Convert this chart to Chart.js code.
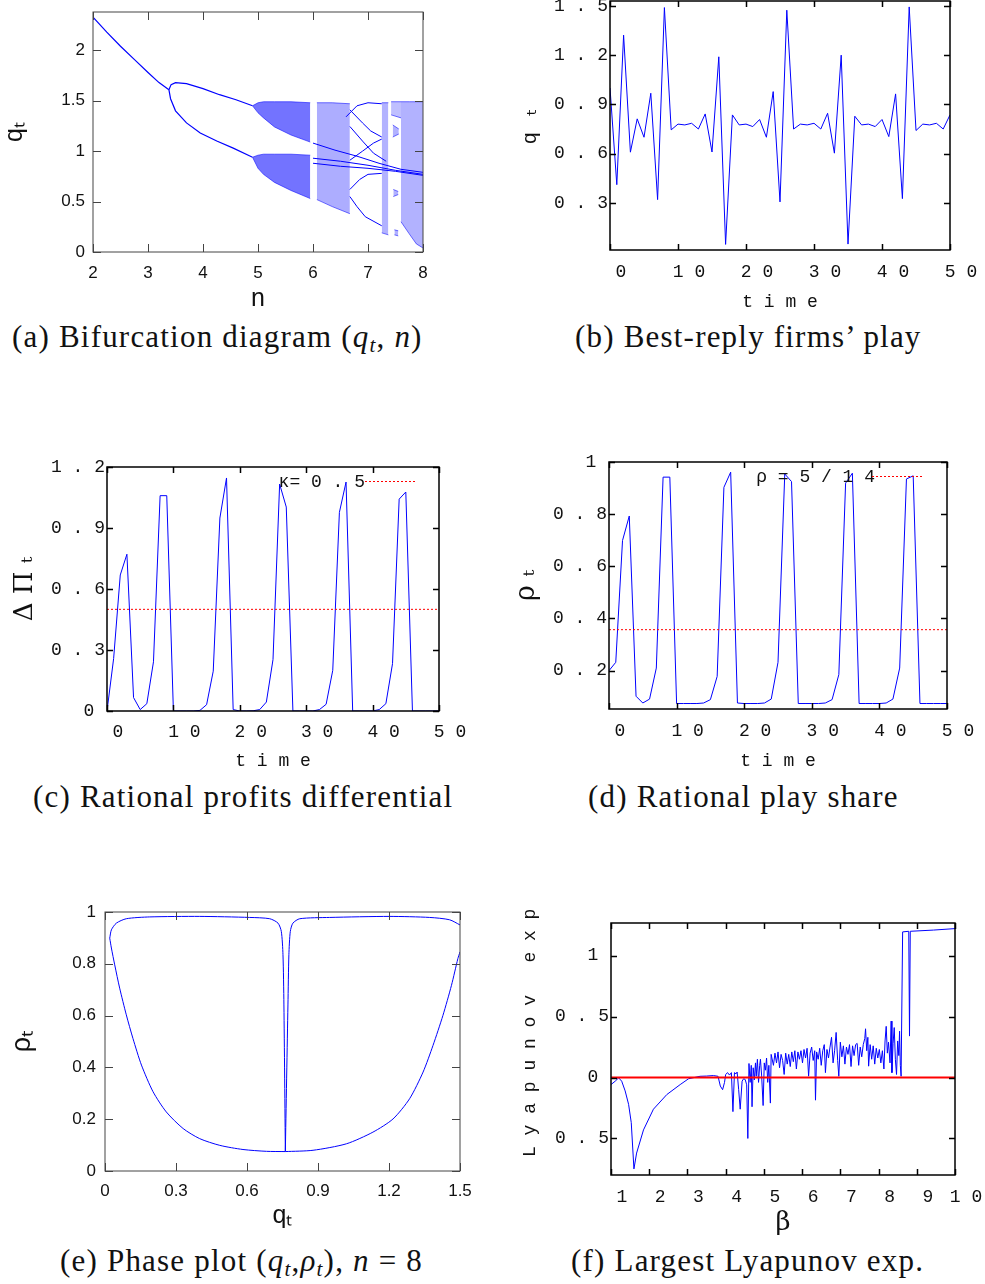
<!DOCTYPE html>
<html>
<head>
<meta charset="utf-8">
<script src="https://cdn.jsdelivr.net/npm/chart.js@4.4.1/dist/chart.umd.min.js"></script>
<style>
body { margin: 0; background: #fff; }
#page { position: relative; width: 985px; height: 1284px; overflow: hidden; }
.panel { position: absolute; }
.cap { position: absolute; font-family: "Liberation Serif", serif; font-size: 31px; line-height: 1; letter-spacing: 1.2px; white-space: nowrap; color: #111; }
.cap sub { font-size: 68%; vertical-align: -0.25em; }
</style>
</head>
<body>
<div id="page">
  <div class="panel" style="left:0;top:0;width:440px;height:315px"><canvas id="chA"></canvas></div>
  <div class="panel" style="left:500px;top:0;width:485px;height:315px"><canvas id="chB"></canvas></div>
  <div class="panel" style="left:0;top:455px;width:480px;height:318px"><canvas id="chC"></canvas></div>
  <div class="panel" style="left:500px;top:455px;width:485px;height:318px"><canvas id="chD"></canvas></div>
  <div class="panel" style="left:0;top:900px;width:490px;height:340px"><canvas id="chE"></canvas></div>
  <div class="panel" style="left:500px;top:900px;width:485px;height:340px"><canvas id="chF"></canvas></div>

  <div class="cap" style="left:12px;top:321px">(a) Bifurcation diagram (<i>q</i><sub><i>t</i></sub>, <i>n</i>)</div>
  <div class="cap" style="left:575px;top:321px">(b) Best-reply firms’ play</div>
  <div class="cap" style="left:33px;top:781px">(c) Rational profits differential</div>
  <div class="cap" style="left:588px;top:781px">(d) Rational play share</div>
  <div class="cap" style="left:60px;top:1245px">(e) Phase plot (<i>q</i><sub><i>t</i></sub>,<i>ρ</i><sub><i>t</i></sub>), <i>n</i> = 8</div>
  <div class="cap" style="left:571px;top:1245px">(f) Largest Lyapunov exp.</div>
</div>

<script>
const MONO = '"Liberation Mono", "DejaVu Sans Mono", monospace';
const SANS = '"Liberation Sans", Arial, sans-serif';
const SERIF = '"DejaVu Serif", "Liberation Serif", serif';
const BLUE = '#0000ff';

// ---- (a) bifurcation diagram ----
const aTicksX = [2, 3, 4, 5, 6, 7, 8];
const aLabelsX = ['2', '3', '4', '5', '6', '7', '8'];
const aTicksY = [0, 0.5, 1, 1.5, 2];
const aLabelsY = ['0', '0.5', '1', '1.5', '2'];
const aFixN = [2, 2.25, 2.5, 2.75, 3.0, 3.2, 3.38];
const aFixQ = [2.33, 2.18, 2.04, 1.91, 1.78, 1.68, 1.61];
const aUpN = [3.38, 3.42, 3.5, 3.7, 4.0, 4.3, 4.6, 4.9];
const aUpQ = [1.61, 1.66, 1.68, 1.67, 1.62, 1.56, 1.51, 1.45];
const aLoN = [3.38, 3.41, 3.5, 3.7, 3.95, 4.25, 4.55, 4.9];
const aLoQ = [1.61, 1.52, 1.40, 1.28, 1.18, 1.10, 1.03, 0.94];
// chaotic bands (top / bottom edges)
const aBand1N = [4.9, 5.0, 5.1, 5.3, 5.6, 5.95];
const aBand1UpTop = [1.45, 1.48, 1.49, 1.49, 1.49, 1.48];
const aBand1UpBot = [1.45, 1.38, 1.33, 1.24, 1.16, 1.09];
const aBand1LoTop = [0.94, 0.96, 0.97, 0.97, 0.97, 0.96];
const aBand1LoBot = [0.94, 0.83, 0.77, 0.69, 0.61, 0.53];
const aBand2N = [6.07, 6.35, 6.67];
const aBand2Top = [1.48, 1.48, 1.47];
const aBand2Bot = [0.52, 0.45, 0.38];
const aBand3N = [7.25, 7.37];
const aBand3Top = [1.48, 1.48];
const aBand3Bot = [0.19, 0.17];
const aBand4N = [7.6, 7.75, 7.88, 8.0];
const aBand4Top = [1.49, 1.49, 1.49, 1.49];
const aBand4Bot = [0.30, 0.18, 0.08, 0.04];
const aSpot1N = [7.45, 7.56], aSpot1Top = [1.26, 1.22], aSpot1Bot = [1.14, 1.17];
const aSpot2N = [7.46, 7.55], aSpot2Top = [0.62, 0.60], aSpot2Bot = [0.55, 0.57];
const aSpot3N = [7.48, 7.55], aSpot3Top = [0.22, 0.21], aSpot3Bot = [0.17, 0.16];
const aSpot4N = [7.42, 7.6], aSpot4Top = [1.49, 1.49], aSpot4Bot = [1.36, 1.33];
// periodic-window branches
const aW1N = [6.6, 6.8, 7.0, 7.25], aW1Q = [1.34, 1.45, 1.48, 1.47];
const aW2N = [6.67, 6.9, 7.05, 7.25], aW2Q = [1.41, 1.28, 1.20, 1.14];
const aW3N = [6.0, 6.4, 6.8, 7.2, 7.6, 8.0], aW3Q = [1.08, 1.01, 0.95, 0.88, 0.82, 0.79];
const aW4N = [6.0, 6.5, 7.0, 7.5, 8.0], aW4Q = [0.93, 0.90, 0.86, 0.81, 0.77];
const aW5N = [6.67, 6.9, 7.1, 7.33], aW5Q = [1.245, 1.10, 0.98, 0.90];
const aW6N = [6.67, 6.9, 7.1, 7.25], aW6Q = [0.91, 1.00, 1.08, 1.12];
const aW7N = [6.67, 6.8, 6.95, 7.25], aW7Q = [0.55, 0.45, 0.35, 0.26];
const aW8N = [6.67, 6.85, 7.0, 7.25], aW8Q = [0.62, 0.72, 0.77, 0.78];
const aW9N = [6.0, 6.5, 7.0, 7.5, 8.0], aW9Q = [0.88, 0.85, 0.83, 0.80, 0.76];

// ---- (b) best-reply play ----
const timeSteps = [0,1,2,3,4,5,6,7,8,9,10,11,12,13,14,15,16,17,18,19,20,21,22,23,24,25,26,27,28,29,30,31,32,33,34,35,36,37,38,39,40,41,42,43,44,45,46,47,48,49,50];
const timeTicks = [0, 10, 20, 30, 40, 50];
const timeLabels = ['0', '1 0', '2 0', '3 0', '4 0', '5 0'];
const bQt = [1.0, 0.411, 1.322, 0.609, 0.812, 0.70, 0.968, 0.32, 1.49, 0.745,
  0.78, 0.775, 0.785, 0.75, 0.842, 0.61, 1.19, 0.047, 0.836, 0.775,
  0.78, 0.765, 0.808, 0.70, 0.978, 0.306, 1.474, 0.75, 0.78, 0.775,
  0.785, 0.75, 0.846, 0.603, 1.2, 0.049, 0.828, 0.775, 0.78, 0.765,
  0.808, 0.704, 0.964, 0.326, 1.494, 0.741, 0.78, 0.775, 0.785, 0.75, 0.836];
const bTicksY = [0.3, 0.6, 0.9, 1.2, 1.5];
const bLabelsY = ['0 . 3', '0 . 6', '0 . 9', '1 . 2', '1 . 5'];

// ---- (c) rational profits differential ----
const cDiff = [0, 0.258, 0.669, 0.771, 0.066, 0.007, 0.036, 0.242, 1.059, 1.059,
  0, 0, 0, 0, 0.003, 0.031, 0.196, 0.949, 1.146, 0.007,
  0, 0, 0.001, 0.007, 0.044, 0.253, 1.116, 1.003, 0, 0,
  0, 0, 0.007, 0.033, 0.2, 0.977, 1.126, 0, 0, 0,
  0, 0.007, 0.036, 0.233, 1.042, 1.077, 0, 0, 0, 0, 0];
const kappa = 0.5;
const cTicksY = [0, 0.3, 0.6, 0.9, 1.2];
const cLabelsY = ['0 ', '0 . 3', '0 . 6', '0 . 9', '1 . 2'];

// ---- (d) rational play share ----
const dRho = [0.2, 0.232, 0.699, 0.793, 0.102, 0.076, 0.091, 0.21, 0.942, 0.942,
  0.074, 0.074, 0.074, 0.074, 0.076, 0.089, 0.178, 0.903, 0.961, 0.076,
  0.074, 0.074, 0.074, 0.076, 0.091, 0.232, 0.954, 0.925, 0.074, 0.074,
  0.074, 0.074, 0.076, 0.089, 0.185, 0.919, 0.957, 0.074, 0.074, 0.074,
  0.074, 0.076, 0.091, 0.21, 0.935, 0.947, 0.074, 0.074, 0.074, 0.074, 0.074];
const rhoStar = 5 / 14;
const dTicksY = [0.2, 0.4, 0.6, 0.8, 1.0];
const dLabelsY = ['0 . 2', '0 . 4', '0 . 6', '0 . 8', '1 '];

// ---- (e) phase plot ----
const eLowLQ = [0.02, 0.027, 0.041, 0.062, 0.09, 0.118, 0.154, 0.203, 0.259, 0.33, 0.4, 0.485, 0.583, 0.682, 0.762];
const eLowLR = [0.899, 0.861, 0.796, 0.706, 0.603, 0.512, 0.409, 0.306, 0.228, 0.164, 0.125, 0.099, 0.083, 0.076, 0.075];
const eLowRQ = [0.762, 0.879, 1.02, 1.132, 1.217, 1.287, 1.344, 1.386, 1.428, 1.464, 1.491, 1.5];
const eLowRR = [0.075, 0.08, 0.105, 0.15, 0.201, 0.279, 0.382, 0.485, 0.601, 0.717, 0.82, 0.846];
const eUpLQ = [0.02, 0.027, 0.048, 0.09, 0.189, 0.4, 0.611, 0.696, 0.731, 0.745, 0.752, 0.756, 0.762];
const eUpLR = [0.899, 0.931, 0.957, 0.974, 0.981, 0.983, 0.979, 0.974, 0.957, 0.925, 0.835, 0.641, 0.076];
const eUpRQ = [0.762, 0.773, 0.777, 0.783, 0.794, 0.823, 0.949, 1.203, 1.372, 1.456, 1.5];
const eUpRR = [0.076, 0.641, 0.835, 0.925, 0.957, 0.974, 0.979, 0.983, 0.979, 0.97, 0.95];
const eTicksX = [0, 0.3, 0.6, 0.9, 1.2, 1.5];
const eLabelsX = ['0', '0.3', '0.6', '0.9', '1.2', '1.5'];
const eTicksY = [0, 0.2, 0.4, 0.6, 0.8, 1];
const eLabelsY = ['0', '0.2', '0.4', '0.6', '0.8', '1'];

// ---- (f) largest Lyapunov exponent ----
const fBeta = [1.0, 1.11, 1.2, 1.28, 1.37, 1.46, 1.53, 1.6, 1.67, 1.85, 2.11, 2.46, 2.81, 3.03, 3.33, 3.5, 3.68, 3.8, 3.86, 3.92,
  3.97, 4.0, 4.05, 4.1, 4.15, 4.19, 4.23, 4.27, 4.3, 4.34, 4.38, 4.43, 4.47, 4.51, 4.55, 4.58, 4.61, 4.64, 4.67, 4.69,
  4.72, 4.75, 4.78, 4.8, 4.83, 4.86, 4.89, 4.91, 4.94, 4.98, 5.01, 5.04, 5.07, 5.1, 5.13, 5.17, 5.19, 5.21, 5.25, 5.29,
  5.33, 5.37, 5.41, 5.45, 5.49, 5.53, 5.57, 5.61, 5.65, 5.69, 5.73, 5.77, 5.81, 5.85, 5.89, 5.93, 5.97, 6.01, 6.05, 6.09,
  6.13, 6.17, 6.21, 6.25, 6.29, 6.33, 6.35, 6.38, 6.42, 6.46, 6.5, 6.54, 6.58, 6.61, 6.65, 6.69, 6.73, 6.77, 6.81, 6.85,
  6.89, 6.93, 6.96, 7.0, 7.04, 7.08, 7.12, 7.16, 7.2, 7.24, 7.28, 7.32, 7.36, 7.4, 7.44, 7.48, 7.52, 7.56, 7.6, 7.64,
  7.66, 7.69, 7.72, 7.74, 7.78, 7.82, 7.86, 7.9, 7.94, 7.98, 8.02, 8.06, 8.1, 8.14, 8.17, 8.2, 8.23, 8.26, 8.3, 8.33,
  8.35, 8.38, 8.41, 8.44, 8.47, 8.5, 8.53, 8.55, 8.57, 8.59, 8.63, 8.79, 8.81, 8.83, 9.44, 10.0];
const fLyap = [-0.058, -0.03, -0.003, -0.03, -0.11, -0.22, -0.37, -0.75, -0.62, -0.43, -0.26, -0.14, -0.058, -0.01, 0.01, 0.012, 0.016, 0.01, -0.07, -0.1,
  -0.04, 0.025, 0.04, 0.02, 0.04, -0.28, 0.04, 0.03, 0.045, -0.1, -0.26, -0.03, -0.01, -0.016, -0.06, -0.5, 0.115, -0.04, 0.10, -0.24,
  0.08, -0.02, 0.12, 0.01, 0.15, -0.04, 0.10, 0.15, 0.02, -0.23, 0.12, 0.06, 0.16, -0.04, 0.10, -0.21, 0.19, 0.19, 0.10, 0.20,
  0.12, 0.21, 0.08, 0.19, 0.14, 0.025, 0.20, 0.11, 0.19, 0.09, 0.21, 0.13, 0.22, 0.07, 0.21, 0.15, 0.22, 0.12, 0.23, 0.16,
  0.24, 0.011, 0.20, 0.25, 0.14, 0.22, -0.186, 0.21, 0.15, 0.24, 0.10, 0.22, 0.27, 0.04, 0.23, 0.16, 0.25, 0.33, 0.12, 0.22,
  0.37, 0.14, 0.01, 0.29, 0.17, 0.26, 0.11, 0.25, 0.19, 0.27, 0.09, 0.26, 0.18, 0.27, 0.28, 0.10, 0.25, 0.17, 0.27, 0.32,
  0.40, 0.22, 0.33, 0.093, 0.27, 0.15, 0.26, 0.11, 0.24, 0.16, 0.23, 0.12, 0.22, 0.07, 0.30, 0.42, 0.20, 0.29, 0.12, 0.463,
  0.04, 0.28, 0.41, 0.15, 0.025, 0.30, 0.18, 0.38, 0.10, 0.01, 1.195, 1.2, 0.34, 1.2, 1.21, 1.222];
const fTicksX = [1, 2, 3, 4, 5, 6, 7, 8, 9, 10];
const fLabelsX = ['1', '2', '3', '4', '5', '6', '7', '8', '9', '1 0'];
const fTicksY = [-0.5, 0, 0.5, 1];
const fLabelsY = ['0 . 5', '0 ', '0 . 5', '1 '];

// ---------- helpers ----------
const pts = (xs, ys) => xs.map((x, i) => ({ x: x, y: ys[i] }));

function line(xs, ys, color, width, dash, tension) {
  return { data: pts(xs, ys), showLine: true, borderColor: color, borderWidth: width,
    borderDash: dash || [], tension: tension || 0, pointRadius: 0, fill: false };
}

function band(xs, top, bot, alpha) {
  return [
    { data: pts(xs, top), showLine: true, borderColor: 'rgba(0,0,255,0.55)', borderWidth: 1,
      pointRadius: 0, fill: '+1', backgroundColor: 'rgba(0,0,255,' + alpha + ')' },
    { data: pts(xs, bot), showLine: true, borderColor: 'rgba(0,0,255,0.55)', borderWidth: 1,
      pointRadius: 0, fill: false }
  ];
}

function axis(c) {
  return {
    type: 'linear', min: c.min, max: c.max,
    afterBuildTicks: s => { s.ticks = c.ticks.map(v => ({ value: v })); },
    afterFit: s => {
      if (c.width != null) s.width = c.width;
      if (c.height != null) s.height = c.height;
      // keep the plot box exactly where it is in the figure
      s.paddingTop = 0; s.paddingBottom = 0; s.paddingLeft = 0; s.paddingRight = 0;
    },
    grid: { display: false, drawTicks: false },
    border: { display: false },
    ticks: { autoSkip: false, maxRotation: 0, padding: c.pad, labelOffset: c.offset || 0,
      color: '#111', font: c.font, callback: (v, i) => c.labels[i] },
    title: c.title ? { display: true, text: c.title, color: '#111', font: c.titleFont, padding: c.titlePad } : { display: false }
  };
}

// box with inward tick marks on all four sides, plus gnuplot-like key
const framePlugin = {
  id: 'frame',
  afterDatasetsDraw(chart, args, o) {
    const { ctx, chartArea: a, scales } = chart;
    ctx.save();
    ctx.strokeStyle = o.color;
    ctx.lineWidth = o.width;
    ctx.strokeRect(a.left, a.top, a.right - a.left, a.bottom - a.top);
    ctx.beginPath();
    scales.x.ticks.forEach(t => {
      const px = Math.round(scales.x.getPixelForValue(t.value)) + 0.5;
      ctx.moveTo(px, a.bottom); ctx.lineTo(px, a.bottom - o.len);
      ctx.moveTo(px, a.top); ctx.lineTo(px, a.top + o.len);
    });
    scales.y.ticks.forEach(t => {
      const py = Math.round(scales.y.getPixelForValue(t.value)) + 0.5;
      ctx.moveTo(a.left, py); ctx.lineTo(a.left + o.len, py);
      ctx.moveTo(a.right, py); ctx.lineTo(a.right - o.len, py);
    });
    ctx.stroke();
    if (o.key) {
      const k = o.key;
      ctx.fillStyle = '#111';
      ctx.font = '18px ' + MONO;
      ctx.textAlign = 'right';
      ctx.textBaseline = 'middle';
      ctx.fillText(k.text, k.x, k.y);
      ctx.strokeStyle = 'red';
      ctx.lineWidth = 1;
      ctx.setLineDash([2, 2]);
      ctx.beginPath();
      ctx.moveTo(k.x0, k.ly + 0.5); ctx.lineTo(k.x1, k.ly + 0.5);
      ctx.stroke();
    }
    ctx.restore();
  }
};

function makeChart(id, datasets, scales, pad, frame) {
  return new Chart(document.getElementById(id), {
    type: 'scatter',
    data: { datasets: datasets },
    options: {
      animation: false, responsive: true, maintainAspectRatio: false, devicePixelRatio: 1,
      layout: { padding: pad },
      elements: { point: { radius: 0 } },
      plugins: { legend: { display: false }, tooltip: { enabled: false }, frame: frame },
      scales: scales
    },
    plugins: [framePlugin]
  });
}

const monoTick = { family: MONO, size: 18 };
const sansTick = { family: SANS, size: 17 };

// (a)
makeChart('chA', [
  line(aFixN, aFixQ, BLUE, 1.2),
  line(aUpN, aUpQ, BLUE, 1.2),
  line(aLoN, aLoQ, BLUE, 1.2),
  ...band(aBand1N, aBand1UpTop, aBand1UpBot, 0.55),
  ...band(aBand1N, aBand1LoTop, aBand1LoBot, 0.55),
  ...band(aBand2N, aBand2Top, aBand2Bot, 0.32),
  ...band(aBand3N, aBand3Top, aBand3Bot, 0.3),
  ...band(aBand4N, aBand4Top, aBand4Bot, 0.3),
  ...band(aSpot1N, aSpot1Top, aSpot1Bot, 0.3),
  ...band(aSpot2N, aSpot2Top, aSpot2Bot, 0.3),
  ...band(aSpot3N, aSpot3Top, aSpot3Bot, 0.3),
  ...band(aSpot4N, aSpot4Top, aSpot4Bot, 0.25),
  line(aW1N, aW1Q, BLUE, 1), line(aW2N, aW2Q, BLUE, 1), line(aW3N, aW3Q, BLUE, 1),
  line(aW4N, aW4Q, BLUE, 1), line(aW5N, aW5Q, BLUE, 1), line(aW6N, aW6Q, BLUE, 1),
  line(aW7N, aW7Q, BLUE, 1), line(aW8N, aW8Q, BLUE, 1), line(aW9N, aW9Q, BLUE, 1)
], {
  x: axis({ min: 2, max: 8, ticks: aTicksX, labels: aLabelsX, font: sansTick, pad: 11, height: 63,
    title: 'n', titleFont: { family: SANS, size: 25 }, titlePad: { top: 0, bottom: 1 } }),
  y: axis({ min: 0, max: 2.38, ticks: aTicksY, labels: aLabelsY, font: sansTick, pad: 8, width: 93,
    title: 'qₜ', titleFont: { family: SANS, size: 25 }, titlePad: { top: 0, bottom: 0 } })
}, { top: 12, right: 17, left: 0, bottom: 0 }, { color: '#444', width: 1, len: 8 });

// (b)
makeChart('chB', [line(timeSteps, bQt, BLUE, 1)], {
  x: axis({ min: 0, max: 50, ticks: timeTicks, labels: timeLabels, font: monoTick, pad: 11, offset: 11, height: 65,
    title: 't i m e', titleFont: { family: MONO, size: 18 }, titlePad: { top: 0, bottom: 2 } }),
  y: axis({ min: 0.013, max: 1.53, ticks: bTicksY, labels: bLabelsY, font: monoTick, pad: 2, width: 110,
    title: 'q ₜ', titleFont: { family: MONO, size: 21 }, titlePad: { top: 18, bottom: 0 } })
}, { top: 1, right: 35, left: 0, bottom: 0 }, { color: '#000', width: 1.5, len: 6 });

// (c)
makeChart('chC', [
  line([0, 50], [kappa, kappa], 'red', 1, [2, 2]),
  line(timeSteps, cDiff, BLUE, 1)
], {
  x: axis({ min: 0, max: 50, ticks: timeTicks, labels: timeLabels, font: monoTick, pad: 10, offset: 11, height: 62,
    title: 't i m e', titleFont: { family: MONO, size: 18 }, titlePad: { top: 0, bottom: 1 } }),
  y: axis({ min: 0, max: 1.2, ticks: cTicksY, labels: cLabelsY, font: monoTick, pad: 2, width: 107,
    title: 'Δ Π ₜ', titleFont: { family: SERIF, size: 26 }, titlePad: { top: 10, bottom: 0 } })
}, { top: 12, right: 41, left: 0, bottom: 0 },
  { color: '#000', width: 1.5, len: 6, key: { text: 'κ= 0 . 5', x: 365, y: 27, x0: 365, x1: 415, ly: 26 } });

// (d)
makeChart('chD', [
  line([0, 50], [rhoStar, rhoStar], 'red', 1, [2, 2]),
  line(timeSteps, dRho, BLUE, 1)
], {
  x: axis({ min: 0, max: 50, ticks: timeTicks, labels: timeLabels, font: monoTick, pad: 11, offset: 11, height: 64,
    title: 't i m e', titleFont: { family: MONO, size: 18 }, titlePad: { top: 0, bottom: 1 } }),
  y: axis({ min: 0.053, max: 1.0, ticks: dTicksY, labels: dLabelsY, font: monoTick, pad: 2, width: 109,
    title: 'ρ ₜ', titleFont: { family: SERIF, size: 27 }, titlePad: { top: 11, bottom: 0 } })
}, { top: 7, right: 38, left: 0, bottom: 0 },
  { color: '#000', width: 1.5, len: 6, key: { text: 'ρ = 5 / 1 4', x: 375, y: 22, x0: 372, x1: 423, ly: 21 } });

// (e)
makeChart('chE', [
  line(eLowLQ, eLowLR, BLUE, 1, null, 0.25),
  line(eLowRQ, eLowRR, BLUE, 1, null, 0.25),
  line(eUpLQ, eUpLR, BLUE, 1, null, 0.25),
  line(eUpRQ, eUpRR, BLUE, 1, null, 0.25)
], {
  x: axis({ min: 0, max: 1.5, ticks: eTicksX, labels: eLabelsX, font: sansTick, pad: 10, height: 69,
    title: 'qₜ', titleFont: { family: SANS, size: 25 }, titlePad: { top: 0, bottom: 9 } }),
  y: axis({ min: 0, max: 1, ticks: eTicksY, labels: eLabelsY, font: sansTick, pad: 9, width: 105,
    title: 'ρₜ', titleFont: { family: SANS, size: 27 }, titlePad: { top: 6, bottom: 0 } })
}, { top: 12, right: 30, left: 0, bottom: 0 }, { color: '#444', width: 1, len: 8 });

// (f)
makeChart('chF', [
  line([1, 10], [0, 0], 'red', 2),
  line(fBeta, fLyap, BLUE, 1)
], {
  x: axis({ min: 1, max: 10, ticks: fTicksX, labels: fLabelsX, font: monoTick, pad: 11, offset: 11, height: 65,
    title: 'β', titleFont: { family: SERIF, size: 26 }, titlePad: { top: 0, bottom: 1 } }),
  y: axis({ min: -0.8, max: 1.268, ticks: fTicksY, labels: fLabelsY, font: monoTick, pad: 2, width: 111,
    title: '   L y a p u n o v   e x p', titleFont: { family: MONO, size: 18 }, titlePad: { top: 19, bottom: 0 } })
}, { top: 23, right: 30, left: 0, bottom: 0 }, { color: '#000', width: 1.5, len: 6 });
</script>
</body>
</html>
